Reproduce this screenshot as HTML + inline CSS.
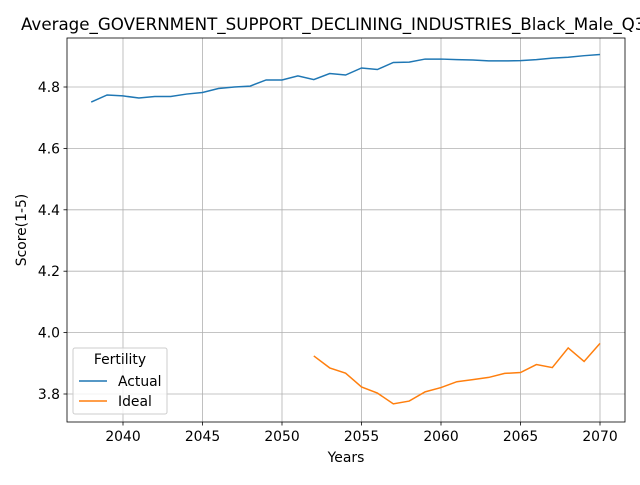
<!DOCTYPE html>
<html><head><meta charset="utf-8"><style>
body{margin:0;background:#fff;font-family:"Liberation Sans","DejaVu Sans",sans-serif}
svg text{font-family:"DejaVu Sans","Liberation Sans",sans-serif}
</style></head><body>
<svg id="chart" width="640" height="480" xmlns="http://www.w3.org/2000/svg"></svg>
<script>
const actualYears=[2038,2039,2040,2041,2042,2043,2044,2045,2046,2047,2048,2049,2050,2051,2052,2053,2054,2055,2056,2057,2058,2059,2060,2061,2062,2063,2064,2065,2066,2067,2068,2069,2070];
const actualValues=[4.751,4.774,4.771,4.764,4.769,4.769,4.777,4.782,4.795,4.800,4.803,4.823,4.823,4.836,4.824,4.844,4.839,4.862,4.857,4.880,4.881,4.891,4.891,4.889,4.888,4.885,4.885,4.886,4.889,4.894,4.897,4.902,4.906];
const idealYears=[2052,2053,2054,2055,2056,2057,2058,2059,2060,2061,2062,2063,2064,2065,2066,2067,2068,2069,2070];
const idealValues=[3.924,3.885,3.868,3.823,3.803,3.768,3.777,3.807,3.821,3.840,3.847,3.854,3.867,3.870,3.896,3.886,3.950,3.906,3.965];
const xTicks=[2040,2045,2050,2055,2060,2065,2070];
const yTicks=[3.8,4.0,4.2,4.4,4.6,4.8];
const L=67,R=625,T=38,B=422;
const x=v=>123+(v-2040)*(600-123)/30;
const y=v=>394-(v-3.8)*(394-87)/1.0;
const svg=document.getElementById('chart');
const NS='http://www.w3.org/2000/svg';
function mk(tag,attrs,parent){const e=document.createElementNS(NS,tag);for(const k in attrs)e.setAttribute(k,attrs[k]);(parent||svg).appendChild(e);return e;}
xTicks.forEach(t=>{
 const g=mk('line',{x1:x(t),x2:x(t),y1:T,y2:B,stroke:'#b0b0b0','stroke-width':0.8});
 
 
 mk('line',{x1:x(t),x2:x(t),y1:B,y2:B+3.5,stroke:'#000','stroke-width':0.8});
 const tx=mk('text',{x:x(t),y:B+19,'font-size':13.9,'text-anchor':'middle'});tx.textContent=t;
 
 
});
yTicks.forEach(t=>{
 const g=mk('line',{x1:L,x2:R,y1:y(t),y2:y(t),stroke:'#b0b0b0','stroke-width':0.8});
 
 
 mk('line',{x1:L-3.5,x2:L,y1:y(t),y2:y(t),stroke:'#000','stroke-width':0.8});
 const tx=mk('text',{x:L-7,y:y(t)+5,'font-size':13.9,'text-anchor':'end'});tx.textContent=t.toFixed(1);
 
 
});
function series(xs,vs,color,name){
 const p=mk('polyline',{points:xs.map((a,i)=>x(a)+','+y(vs[i])).join(' '),fill:'none',stroke:color,'stroke-width':1.5});
 
 
}
series(actualYears,actualValues,'#1f77b4','actual-line');
series(idealYears,idealValues,'#ff7f0e','ideal-line');
const fr=mk('rect',{x:L,y:T,width:R-L,height:B-T,fill:'none',stroke:'#000','stroke-width':0.8});


const title=mk('text',{x:21,y:30,'font-size':16.7});title.textContent='Average_GOVERNMENT_SUPPORT_DECLINING_INDUSTRIES_Black_Male_Q3';


const xl=mk('text',{x:346,y:462,'font-size':13.9,'text-anchor':'middle'});xl.textContent='Years';


const yl=mk('text',{x:26,y:230,'font-size':13.9,'text-anchor':'middle',transform:'rotate(-90 26 230)'});yl.textContent='Score(1-5)';


const lg=mk('g',{});


mk('rect',{x:73,y:348,width:94,height:66,rx:2,fill:'#fff','fill-opacity':0.8,stroke:'#ccc'},lg);
const lt=mk('text',{x:120,y:364,'font-size':13.9,'text-anchor':'middle'},lg);lt.textContent='Fertility';
[['Actual','#1f77b4',381],['Ideal','#ff7f0e',401]].forEach(([n,c,yy])=>{
 const e=mk('g',{},lg);
 
 
 mk('line',{x1:79,x2:107,y1:yy,y2:yy,stroke:c,'stroke-width':1.5},e);
 const t=mk('text',{x:118,y:yy+5,'font-size':13.9},e);t.textContent=n;
});
</script>
</body></html>
